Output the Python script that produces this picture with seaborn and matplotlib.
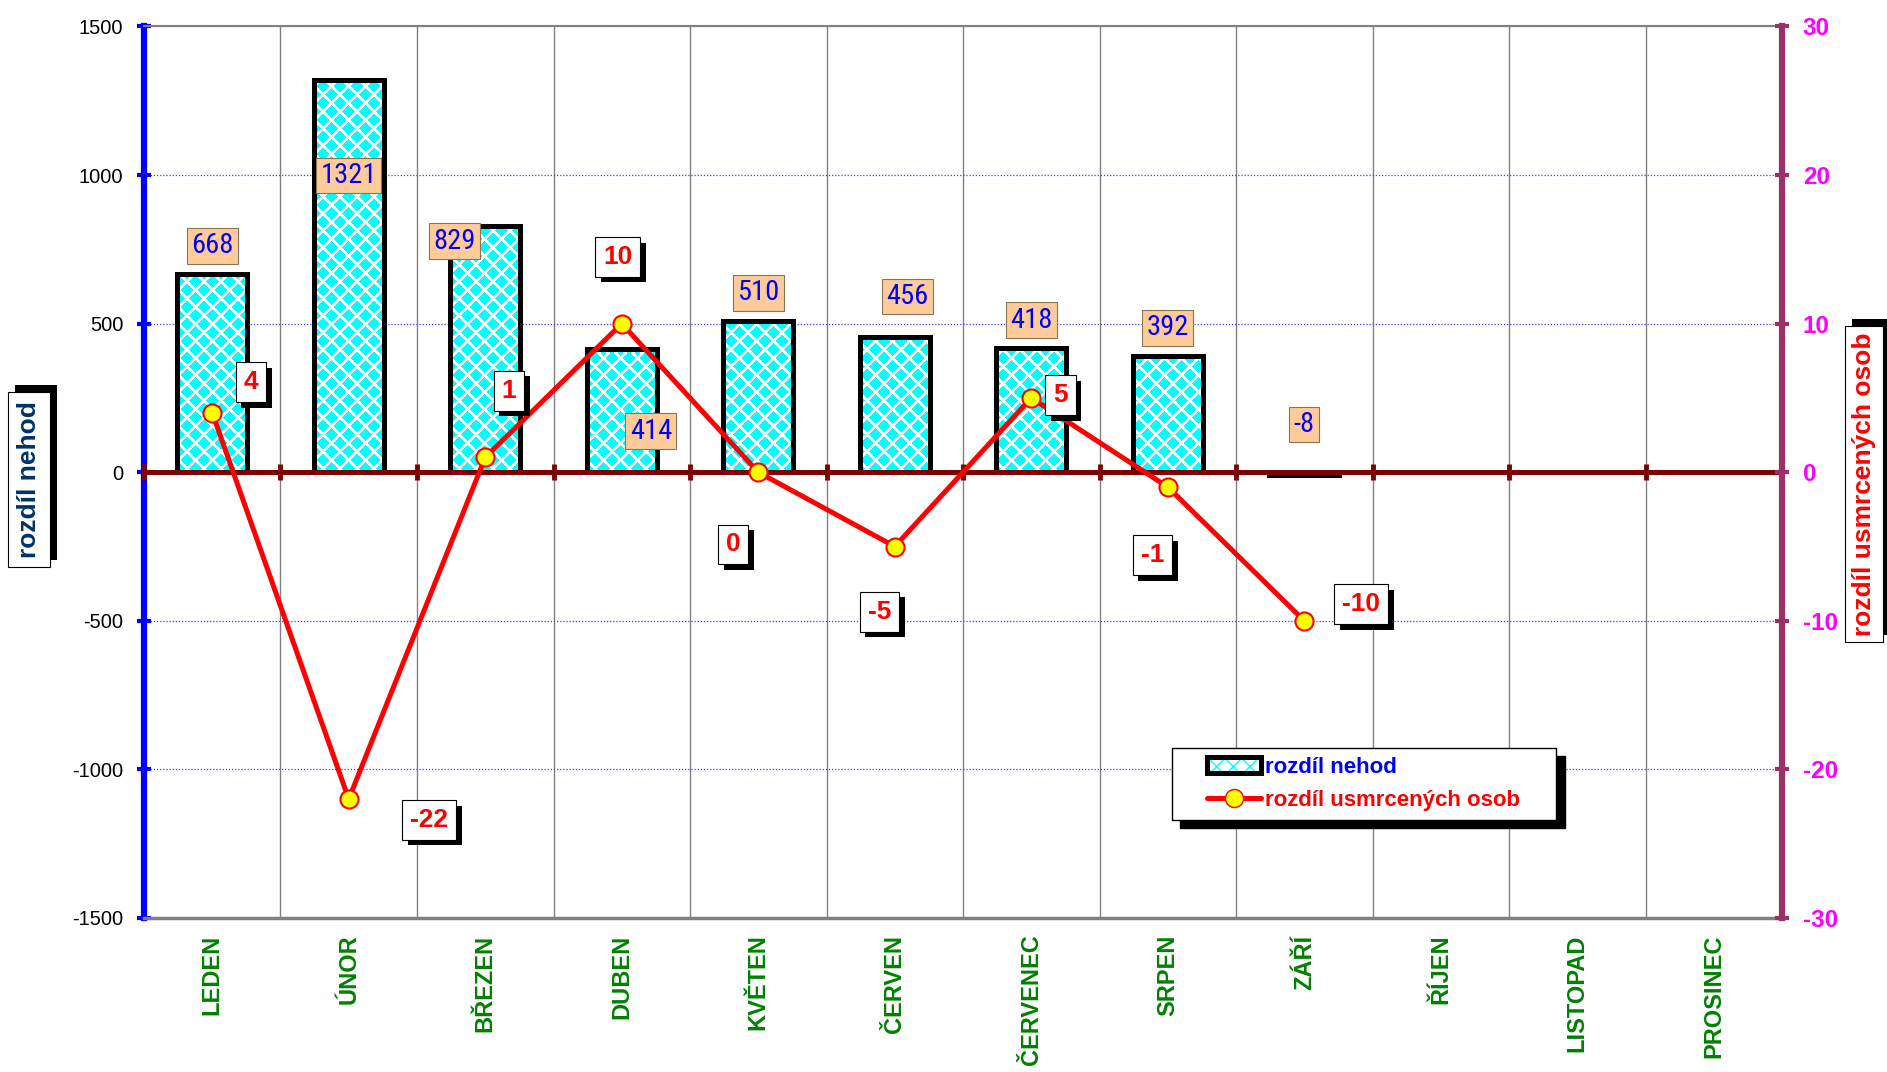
import numpy as np
import pandas as pd
import seaborn as sns
import matplotlib.pyplot as plt
import matplotlib.patheffects as pe
from matplotlib.patches import Patch
from matplotlib.lines import Line2D
from matplotlib.legend_handler import HandlerLine2D, HandlerTuple
from matplotlib import font_manager

# Data
months = ["LEDEN", "ÚNOR", "BŘEZEN", "DUBEN", "KVĚTEN", "ČERVEN", "ČERVENEC",
          "SRPEN", "ZÁŘÍ", "ŘÍJEN", "LISTOPAD", "PROSINEC"]
accidents_diff = [668, 1321, 829, 414, 510, 456, 418, 392, -8]
deaths_diff = [4, -22, 1, 10, 0, -5, 5, -1, -10]

# label offsets in points (relative to bar top / line point)
bar_lbl_off = [(0, 20), (0, -69), (-22, -11), (21, -59), (0, 20), (9, 29), (0, 20), (0, 20), (0, 36)]
line_lbl_off = [(28, 22), (58, -15), (17, 48), (-3, 48), (-18, -52), (-11, -47), (21, 2), (-11, -49), (41, 12)]

sns.set_style("white")
plt.rcParams["font.family"] = ["Liberation Sans", "DejaVu Sans"]
plt.rcParams["axes.unicode_minus"] = False
names = {f.name for f in font_manager.fontManager.ttflist}
narrow = next((n for n in ["Liberation Sans Narrow", "Arial Narrow", "Roboto Condensed",
                           "DejaVu Sans Condensed"] if n in names), "Liberation Sans")
narrow_size = 20.5 if narrow != "Liberation Sans" else 16.5

fig = plt.figure(figsize=(18.87, 10.72), dpi=100)
ax_pos = [0.0763, 0.1437, 0.8681, 0.8316]
ax = fig.add_axes(ax_pos)

# --- bars ---
df = pd.DataFrame({"month": months[:len(accidents_diff)], "nehody": accidents_diff})
sns.barplot(data=df, x="month", y="nehody", order=months, ax=ax, width=0.51,
            color="white", errorbar=None)
bars = list(ax.patches)
for b in bars:
    b.set_facecolor("none")
    b.set_edgecolor("black")
    b.set_linewidth(3.6)
    b.set_zorder(4)


# cyan diamond fill, clipped to each bar
def diamond_texture(w, h, q=17, r=0.36):
    yy, xx = np.mgrid[0:h, 0:w]
    fx = np.abs((xx % q) - q / 2)
    fy = np.abs((yy % q) - q / 2)
    d = fx + fy
    on = (d < r * q) | ((q - d) < r * q)
    img = np.full((h, w, 3), 255, dtype=np.uint8)
    img[on] = [0, 255, 255]
    return img


tex = diamond_texture(int(1887 * ax_pos[2]), int(1072 * ax_pos[3]))
for b in bars:
    im = ax.imshow(tex, extent=[0, 1, 0, 1], transform=ax.transAxes, aspect="auto",
                   interpolation="nearest", zorder=3)
    im.set_clip_path(b)

ax.set_xlim(-0.5, len(months) - 0.5)
ax.set_ylim(-1500, 1500)
ax.set_yticks(range(-1500, 1501, 500))
ax.set_xlabel("")
ax.set_ylabel("")

# grid
ax.set_axisbelow(True)
ax.yaxis.grid(True, color="#4040FF", ls=(0, (1, 1.5)), lw=0.9)
ax.set_xticks(np.arange(0.5, len(months) - 1), minor=True)
ax.xaxis.grid(True, which="minor", color="#808080", lw=1)
ax.xaxis.grid(False, which="major")

# zero line with boundary ticks
ax.axhline(0, color="#800000", lw=3.6, zorder=5)
ax.plot(np.arange(len(months) + 1) - 0.5, np.zeros(len(months) + 1), ls="none",
        marker="|", ms=11, mew=3.5, color="#800000", zorder=6, clip_on=False)

# spines / ticks
ax.spines["left"].set_color("#0000FF")
ax.spines["left"].set_linewidth(4.5)
ax.spines["top"].set_color("#808080")
ax.spines["top"].set_linewidth(1.5)
ax.spines["bottom"].set_color("#808080")
ax.spines["bottom"].set_linewidth(2.5)
ax.spines["right"].set_visible(False)
ax.tick_params(axis="y", direction="inout", length=10, width=3, color="#0000FF",
               labelcolor="black", labelsize=14.5, pad=10)
ax.tick_params(axis="x", which="both", length=0, pad=12, labelsize=17, labelcolor="#008000")
for t in ax.get_xticklabels():
    t.set_rotation(90)
    t.set_fontweight("bold")

# --- line on right axis ---
ax2 = ax.twinx()
sns.lineplot(x=np.arange(len(deaths_diff)), y=deaths_diff, ax=ax2, color="red", lw=3.6,
             marker="o", ms=13, markerfacecolor="yellow", markeredgecolor="red",
             markeredgewidth=1.5, zorder=5)
ax2.set_ylim(-30, 30)
ax2.set_yticks(range(-30, 31, 10))
ax2.set_xlim(-0.5, len(months) - 0.5)
for s in ["left", "top", "bottom"]:
    ax2.spines[s].set_visible(False)
ax2.spines["right"].set_color("#993366")
ax2.spines["right"].set_linewidth(4.5)
ax2.tick_params(axis="y", direction="inout", length=10, width=3, color="#993366",
                labelcolor="#FF00FF", labelsize=17.5, pad=10)
for t in ax2.get_yticklabels():
    t.set_fontweight("bold")

# --- data labels ---
for i, (v, off) in enumerate(zip(accidents_diff, bar_lbl_off)):
    ax2.annotate(str(v), xy=(i, v), xycoords=ax.transData, xytext=off,
                 textcoords="offset points", ha="center", va="center", color="#0000FF",
                 fontsize=narrow_size, family=[narrow, "DejaVu Sans"],
                 bbox=dict(boxstyle="square,pad=0.15", fc="#FFCC99", ec="#8B7355", lw=0.8),
                 zorder=7)

shadow = [pe.withSimplePatchShadow(offset=(4, -4), shadow_rgbFace="black", alpha=1.0)]
for i, (v, off) in enumerate(zip(deaths_diff, line_lbl_off)):
    t = ax2.annotate(str(v), xy=(i, v), xytext=off, textcoords="offset points",
                     ha="center", va="center", color="red", fontsize=19, fontweight="bold",
                     bbox=dict(boxstyle="square,pad=0.3", fc="white", ec="black", lw=0.8),
                     zorder=8)
    t.get_bbox_patch().set_path_effects(shadow)

# --- axis titles in boxes ---
up_shadow = [pe.withSimplePatchShadow(offset=(5, 5), shadow_rgbFace="black", alpha=1.0)]
t = fig.text(0.0154, 0.553, "rozdíl nehod", rotation=90, ha="center", va="center",
             fontsize=19, fontweight="bold", color="#003366",
             bbox=dict(boxstyle="square,pad=0.35", fc="white", ec="black", lw=0.8))
t.get_bbox_patch().set_path_effects(up_shadow)
t = fig.text(0.9878, 0.5485, "rozdíl usmrcených osob", rotation=90, ha="center", va="center",
             fontsize=19, fontweight="bold", color="red",
             bbox=dict(boxstyle="square,pad=0.25", fc="white", ec="black", lw=0.8))
t.get_bbox_patch().set_path_effects(up_shadow)


# --- legend ---
class ShiftLine(HandlerLine2D):
    def create_artists(self, legend, orig_handle, xdescent, ydescent, width, height, fontsize, trans):
        s = 0.33 * width
        return super().create_artists(legend, orig_handle, xdescent - s, ydescent,
                                      width - s, height, fontsize, trans)


class ShiftTuple(HandlerTuple):
    def create_artists(self, legend, orig_handle, xdescent, ydescent, width, height, fontsize, trans):
        s = 0.33 * width
        return super().create_artists(legend, orig_handle, xdescent - s, ydescent,
                                      width - s, height, fontsize, trans)


h_bar = (Patch(facecolor="white", edgecolor="#00FFFF", hatch="xx", lw=0),
         Patch(facecolor="none", edgecolor="black", lw=3.6))
h_line = Line2D([], [], color="red", lw=3.6, marker="o", ms=13,
                markerfacecolor="yellow", markeredgecolor="red")
leg = ax2.legend([h_bar, h_line], ["rozdíl nehod", "rozdíl usmrcených osob"],
                 handler_map={tuple: ShiftTuple(), Line2D: ShiftLine()},
                 loc="upper left", bbox_to_anchor=(0.6276, 0.1077, 0.2346, 0.083),
                 mode="expand", prop={"weight": "bold", "size": 16}, frameon=True,
                 fancybox=False, edgecolor="black", framealpha=1,
                 shadow={"ox": 6, "oy": -6, "color": "black", "alpha": 1},
                 handlelength=3.6, handletextpad=0.2, borderpad=0.4,
                 labelspacing=0.55, borderaxespad=0)
leg.get_frame().set_linewidth(1)
leg.set_zorder(10)
for txt, c in zip(leg.get_texts(), ["#0000FF", "red"]):
    txt.set_color(c)

fig.savefig("out.png", dpi=100)
